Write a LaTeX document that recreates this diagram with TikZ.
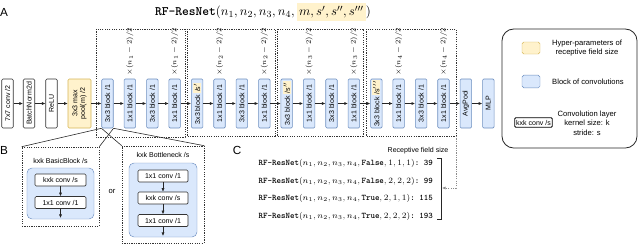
\documentclass[tikz,border=0pt]{standalone}
\usepackage{fontspec}
\setsansfont{Liberation Sans}
\usetikzlibrary{arrows.meta,calc}
\definecolor{blkfill}{HTML}{DAE8FC}
\definecolor{blkline}{HTML}{6C8EBF}
\definecolor{hypfill}{HTML}{FFF2CC}
\definecolor{hypline}{HTML}{D6B656}
\newcommand{\hl}[1]{{\setlength{\fboxsep}{0.6pt}\colorbox{hypfill}{#1}}}
\newcommand{\rfn}{\texttt{\bfseries RF-ResNet}}

\begin{document}
\begin{tikzpicture}[x=0.03cm, y=-0.03cm, font=\sffamily,
  layer/.style={draw=black!80, fill=white, rounded corners=1pt, rotate=90,
    minimum width=1.47cm, minimum height=0.345cm, inner sep=0pt,
    line width=0.5pt, font=\sffamily\fontsize{6}{6.5}\selectfont},
  blk/.style={layer, draw=blkline, fill=blkfill},
  hyp/.style={layer, draw=hypline, fill=hypfill, minimum height=0.69cm, align=center},
  conv/.style={draw=black!80, fill=white, rounded corners=1pt, minimum height=0.36cm,
    inner sep=0pt, line width=0.5pt, font=\sffamily\fontsize{6}{7}\selectfont},
  link/.style={-{Latex[length=3pt,width=2.6pt]}, black!85, line width=0.5pt},
  grp/.style={draw=black!80, dash pattern=on 1pt off 1pt, line width=0.5pt},
  mult/.style={rotate=90, anchor=west, inner sep=0pt, font=\fontsize{6}{7}\selectfont},
  small/.style={font=\sffamily\fontsize{6}{7.5}\selectfont, align=center},
  legend/.style={font=\sffamily\fontsize{6.5}{8}\selectfont, align=center},
  panel/.style={font=\sffamily\fontsize{10}{12}\selectfont},
  rfline/.style={anchor=east, inner sep=0pt, font=\fontsize{7.3}{9}\selectfont},
]
\useasboundingbox (0,0) rectangle (640,244);

% A: the network
\node[panel] (pa) at (4,12) {A};
\node[font=\fontsize{11}{13}\selectfont] (title) at (263,12)
  {\rfn$(n_1, n_2, n_3, n_4,$\,{\setlength{\fboxsep}{2pt}\colorbox{hypfill}{$m, s', s'', s'''$}}$)$};

\draw[grp] (96,29) rectangle (185,137);
\draw[grp] (187,29) rectangle (275,136);
\draw[grp] (277,29) rectangle (363,136);
\draw[grp] (366,29) rectangle (456,136);

\node[layer] (conv7) at (7.5,103.5) {7x7 conv /2};
\node[layer] (bnorm) at (29,103.5) {BatchNorm2d};
\node[layer] (relu) at (51.5,103.5) {ReLU};
\node[hyp] (mpool) at (79.5,103.5) {3x3 max\\pool(m) /2};
\node[blk] (l1a) at (107.5,103.5) {3x3 block /1};
\node[blk] (l1b) at (129.9,103.5) {1x1 block /1};
\node[blk] (l1c) at (152.3,103.5) {3x3 block /1};
\node[blk] (l1d) at (174.7,103.5) {1x1 block /1};
\node[blk] (l2a) at (197.1,103.5) {3x3 block \hl{/s$'$}};
\node[blk] (l2b) at (219.5,103.5) {1x1 block /1};
\node[blk] (l2c) at (241.9,103.5) {3x3 block /1};
\node[blk] (l2d) at (264.3,103.5) {1x1 block /1};
\node[blk] (l3a) at (286.7,103.5) {3x3 block \hl{/s$''$}};
\node[blk] (l3b) at (309.1,103.5) {1x1 block /1};
\node[blk] (l3c) at (331.5,103.5) {3x3 block /1};
\node[blk] (l3d) at (353.9,103.5) {1x1 block /1};
\node[blk] (l4a) at (376.3,103.5) {3x3 block \hl{/s$'''$}};
\node[blk] (l4b) at (398.7,103.5) {1x1 block /1};
\node[blk] (l4c) at (421.1,103.5) {3x3 block /1};
\node[blk] (l4d) at (443.5,103.5) {1x1 block /1};
\node[blk] (avgp) at (465.9,103.5) {AvgPool};
\node[blk] (mlp) at (488.3,103.5) {MLP};

\foreach \a/\b in {conv7/bnorm, bnorm/relu, relu/mpool, mpool/l1a, l1a/l1b, l1b/l1c,
  l1c/l1d, l1d/l2a, l2a/l2b, l2b/l2c, l2c/l2d, l2d/l3a, l3a/l3b, l3b/l3c, l3c/l3d,
  l3d/l4a, l4a/l4b, l4b/l4c, l4c/l4d, l4d/avgp, avgp/mlp}
  \draw[link] (\a) -- (\b);

\foreach \b/\n in {l1b/1, l1d/1, l2b/2, l2d/2, l3b/3, l3d/3, l4b/4, l4d/4}
  \node[mult] (m\b) at ($(\b.east)+(0,-3)$) {$\times(n_\n-2)/2$};

% legend
\node[draw=black!85, line width=0.7pt, rounded corners=0.35cm, minimum width=4.05cm,
  minimum height=3.57cm] (leg) at (569.5,88.5) {};
\node[draw=hypline, fill=hypfill, rounded corners=1.5pt, minimum width=0.54cm,
  minimum height=0.36cm] (lhyp) at (531,48) {};
\node[legend] (lhyptxt) at (587,48) {Hyper-parameters of\\receptive field size};
\node[draw=blkline, fill=blkfill, rounded corners=1.5pt, minimum width=0.54cm,
  minimum height=0.38cm] (lblk) at (531,81.5) {};
\node[legend] (lblktxt) at (588,82) {Block of convolutions};
\node[conv, draw=black, line width=0.7pt, inner sep=1.2pt, minimum height=0.29cm]
  (lconv) at (533.5,122.5) {kxk conv /s};
\node[legend] (lconvtxt) at (587,123) {Convolution layer\\kernel size: k\\stride: s};

% B: the blocks
\node[panel] (pb) at (4,150) {B};
\node[grp, minimum width=2.31cm, minimum height=2.37cm] (basic) at (60.5,186.5) {};
\node[grp, minimum width=2.46cm, minimum height=2.91cm] (bneck) at (163,194.5) {};
\draw[black!85, line width=0.5pt] (l1a.north west) -- (basic.north west);
\draw[black!85, line width=0.5pt] (l1a.south west) -- (basic.north east);
\draw[black!85, line width=0.5pt] (l1a.north west) -- (bneck.north west);
\draw[black!85, line width=0.5pt] (l1a.south west) -- (bneck.north east);

\node[small] (basictxt) at (60.5,161) {kxk BasicBlock /s};
\node[draw=blkline, fill=blkfill, rounded corners=0.15cm, minimum width=2.01cm,
  minimum height=1.53cm] (basicbg) at (60.5,193.5) {};
\node[conv, minimum width=1.53cm] (ba) at (60.5,180) {kxk conv /s};
\node[conv, minimum width=1.53cm] (bb) at (60.5,202.5) {1x1 conv /1};
\coordinate (bout) at (60.5,218);
\draw[link] (ba) -- (bb);
\draw[link] (bb) -- (bout);

\node[small, font=\sffamily\fontsize{6.5}{8}\selectfont] (or) at (112,191) {or};

\node[small] (bnecktxt) at (163,155) {kxk Bottleneck /s};
\node[draw=blkline, fill=blkfill, rounded corners=0.15cm, minimum width=2.04cm,
  minimum height=2.22cm] (bneckbg) at (163,200) {};
\node[conv, minimum width=1.5cm] (na) at (163,176) {1x1 conv /1};
\node[conv, minimum width=1.5cm] (nb) at (163,198) {kxk conv /s};
\node[conv, minimum width=1.5cm] (nc) at (163,220.5) {1x1 conv /1};
\coordinate (nout) at (163,236);
\draw[link] (na) -- (nb);
\draw[link] (nb) -- (nc);
\draw[link] (nc) -- (nout);

% C: receptive field sizes
\node[panel] (pc) at (237,150) {C};
\node[small] (rfhead) at (418,151) {Receptive field size};
\node[rfline] (rf1) at (433,163) {\rfn$(n_1, n_2, n_3, n_4,$\,\texttt{\bfseries False}$, 1, 1, 1)$\texttt{\bfseries :\ 39}};
\node[rfline] (rf2) at (433,181) {\rfn$(n_1, n_2, n_3, n_4,$\,\texttt{\bfseries False}$, 2, 2, 2)$\texttt{\bfseries :\ 99}};
\node[rfline] (rf3) at (433,198) {\rfn$(n_1, n_2, n_3, n_4,$\,\texttt{\bfseries True}$, 2, 1, 1)$\texttt{\bfseries :\ 115}};
\node[rfline] (rf4) at (433,216) {\rfn$(n_1, n_2, n_3, n_4,$\,\texttt{\bfseries True}$, 2, 2, 2)$\texttt{\bfseries :\ 193}};

\draw[black!85, line width=0.5pt] (437,158) -- (441,158) -- (441,219) -- (437,219);
\coordinate (g4se) at (456,136);
\coordinate (rfs) at (442,188);
\draw[grp, draw=black!45, -{Latex[length=3pt,width=2.6pt]}] (g4se) |- (rfs);
\end{tikzpicture}
\end{document}
